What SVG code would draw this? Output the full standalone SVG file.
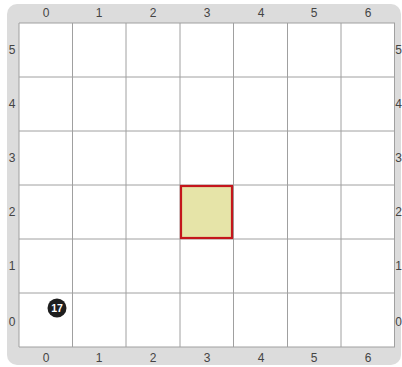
<svg xmlns="http://www.w3.org/2000/svg" width="402" height="367" viewBox="0 0 402 367">
<style>
.lbl{font-family:"Liberation Sans",Arial,sans-serif;font-size:12px;fill:#444;text-anchor:middle}
.rl{text-anchor:end}
.grid line{stroke:#a0a0a0;stroke-width:1}
</style>
<rect width="402" height="367" fill="#fff"/>
<rect x="7" y="4" width="394" height="361" rx="10" fill="#dcdcdc"/>
<rect x="19" y="23" width="376" height="324" fill="#fff"/>
<g class="grid">
<line x1="19" y1="23" x2="19" y2="347"/>
<line x1="72.5" y1="23" x2="72.5" y2="347"/>
<line x1="126" y1="23" x2="126" y2="347"/>
<line x1="180" y1="23" x2="180" y2="347"/>
<line x1="233.5" y1="23" x2="233.5" y2="347"/>
<line x1="287.5" y1="23" x2="287.5" y2="347"/>
<line x1="341" y1="23" x2="341" y2="347"/>
<line x1="394.5" y1="23" x2="394.5" y2="347"/>
<line x1="19" y1="23" x2="395" y2="23"/>
<line x1="19" y1="77" x2="395" y2="77"/>
<line x1="19" y1="131" x2="395" y2="131"/>
<line x1="19" y1="185" x2="395" y2="185"/>
<line x1="19" y1="239" x2="395" y2="239"/>
<line x1="19" y1="293" x2="395" y2="293"/>
<line x1="19" y1="347" x2="395" y2="347"/>
</g>
<g id="cell-3-2">
<rect x="181" y="186" width="51" height="52" fill="#e6e4a8" stroke="#c4161c" stroke-width="2.2"/>
</g>
<g id="marker-17">
<circle cx="57" cy="308" r="9.5" fill="#1e1e1e"/>
<text x="57" y="312" font-family="Liberation Sans,Arial,sans-serif" font-size="10.5" font-weight="bold" fill="#fff" text-anchor="middle">17</text>
</g>
<g id="top-labels">
<text class="lbl" x="46" y="17">0</text>
<text class="lbl" x="99" y="17">1</text>
<text class="lbl" x="153" y="17">2</text>
<text class="lbl" x="207" y="17">3</text>
<text class="lbl" x="261" y="17">4</text>
<text class="lbl" x="314" y="17">5</text>
<text class="lbl" x="368" y="17">6</text>
</g>
<g id="bottom-labels">
<text class="lbl" x="46" y="362">0</text>
<text class="lbl" x="99" y="362">1</text>
<text class="lbl" x="153" y="362">2</text>
<text class="lbl" x="207" y="362">3</text>
<text class="lbl" x="261" y="362">4</text>
<text class="lbl" x="314" y="362">5</text>
<text class="lbl" x="368" y="362">6</text>
</g>
<g id="left-labels">
<text class="lbl" x="12" y="54">5</text>
<text class="lbl" x="12" y="108">4</text>
<text class="lbl" x="12" y="162">3</text>
<text class="lbl" x="12" y="216">2</text>
<text class="lbl" x="12" y="270">1</text>
<text class="lbl" x="12" y="326">0</text>
</g>
<g id="right-labels">
<text class="lbl rl" x="402" y="54">5</text>
<text class="lbl rl" x="402" y="108">4</text>
<text class="lbl rl" x="402" y="162">3</text>
<text class="lbl rl" x="402" y="216">2</text>
<text class="lbl rl" x="402" y="270">1</text>
<text class="lbl rl" x="402" y="326">0</text>
</g>
</svg>
